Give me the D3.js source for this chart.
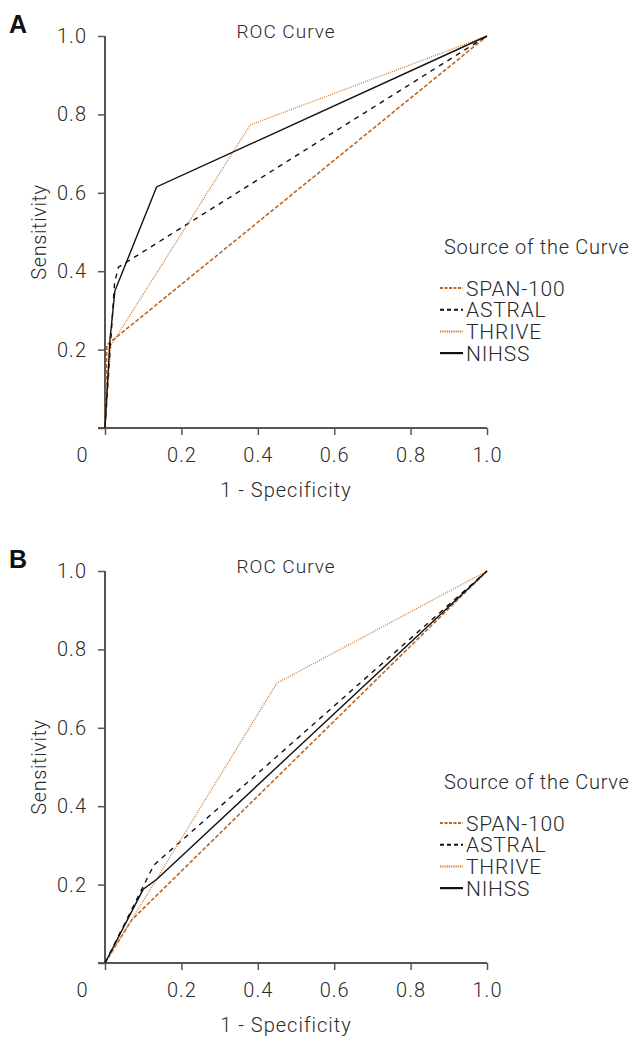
<!DOCTYPE html>
<html>
<head>
<meta charset="utf-8">
<script src="https://cdn.jsdelivr.net/npm/d3@7"></script>
<style>
  body { margin: 0; background: #fff; }
  svg text { font-family: Roboto, "Noto Sans", sans-serif; font-weight: 300; fill: #2a2a2a; }
</style>
</head>
<body>
<svg id="chart" width="633" height="1037"></svg>
<script>
// ticks shared by both panels
const tickValues = [0, 0.2, 0.4, 0.6, 0.8, 1.0]

const seriesNames = ["SPAN-100", "ASTRAL", "THRIVE", "NIHSS"]

// panel A: [1 - specificity, sensitivity]
const spanA   = [[0, 0], [0.005, 0.212], [1, 1]]
const astralA = [[0, 0], [0.025, 0.37], [0.035, 0.41], [1, 1]]
const thriveA = [[0, 0], [0.015, 0.21], [0.38, 0.773], [1, 1]]
const nihssA  = [[0, 0], [0.013, 0.225], [0.026, 0.35], [0.135, 0.615], [1, 1]]

// panel B
const spanB   = [[0, 0], [0.07, 0.11], [1, 1]]
const astralB = [[0, 0], [0.128, 0.25], [1, 1]]
const thriveB = [[0, 0], [0.45, 0.714], [1, 1]]
const nihssB  = [[0, 0], [0.1, 0.188], [0.135, 0.213], [1, 1]]

const styles = {
  "SPAN-100": { color: "#c0661f", dash: "4,2", width: 1.6, legendDash: "3,1.5" },
  "ASTRAL":   { color: "#111",    dash: "5,5", width: 1.4, legendDash: "4,3" },
  "THRIVE":   { color: "#cc7a35", dash: "1,1.2", width: 1.3, legendDash: "1,0.8" },
  "NIHSS":    { color: "#111",    dash: null,  width: 1.4, legendDash: null }
}

const svg = d3.select("#chart")

function drawPanel(top, letter, data) {
  const g = svg.append("g").attr("transform", `translate(0,${top})`)

  const x = d3.scaleLinear().domain([0, 1]).range([105, 487])
  const y = d3.scaleLinear().domain([0, 1]).range([428, 36])

  // panel letter
  g.append("text")
    .attr("x", 9).attr("y", 33)
    .style("font-family", "Arial, 'Liberation Sans', sans-serif")
    .style("font-weight", "bold")
    .style("font-size", "25px")
    .style("fill", "#111")
    .text(letter)

  // title
  g.append("text")
    .attr("x", 286).attr("y", 38)
    .attr("text-anchor", "middle")
    .style("font-size", "19px")
    .style("letter-spacing", "1px")
    .text("ROC Curve")

  // axes
  const axisColor = "#555"
  const fmt = d => d === 0 ? "" : d3.format(".1f")(d)
  const xAxis = g.append("g")
    .attr("transform", `translate(0,${y(0)})`)
    .call(d3.axisBottom(x).tickValues(tickValues).tickSize(7).tickSizeOuter(0).tickFormat(fmt))
  xAxis.select(".domain").remove()
  xAxis.selectAll("line").attr("stroke", axisColor).attr("stroke-width", 1.5)
  xAxis.selectAll("text")
    .attr("y", 20)
    .style("font-size", "20px").style("font-family", "Roboto, sans-serif")
    .style("font-weight", 300).style("letter-spacing", "1px").style("fill", "#2a2a2a")

  const yAxis = g.append("g")
    .attr("transform", `translate(${x(0)},0)`)
    .call(d3.axisLeft(y).tickValues(tickValues).tickSize(7).tickSizeOuter(0).tickFormat(fmt))
  yAxis.select(".domain").remove()
  yAxis.selectAll("line").attr("stroke", axisColor).attr("stroke-width", 1.5)
  yAxis.selectAll("text")
    .attr("x", -18)
    .style("font-size", "20px").style("font-family", "Roboto, sans-serif")
    .style("font-weight", 300).style("letter-spacing", "1px").style("fill", "#2a2a2a")

  g.append("line")
    .attr("x1", x(0) - 7).attr("x2", x(1))
    .attr("y1", y(0)).attr("y2", y(0))
    .attr("stroke", axisColor).attr("stroke-width", 2)
  g.append("line")
    .attr("x1", x(0)).attr("x2", x(0))
    .attr("y1", y(0)).attr("y2", y(1))
    .attr("stroke", axisColor).attr("stroke-width", 2)

  // origin label
  g.append("text")
    .attr("x", 82).attr("y", y(0) + 34)
    .attr("text-anchor", "middle")
    .style("font-size", "20px")
    .text("0")

  // axis titles
  g.append("text")
    .attr("x", 286).attr("y", 497)
    .attr("text-anchor", "middle")
    .style("font-size", "20px")
    .style("letter-spacing", "1px")
    .text("1 - Specificity")
  g.append("text")
    .attr("transform", `translate(46,${(y(0) + y(1)) / 2}) rotate(-90)`)
    .attr("text-anchor", "middle")
    .style("font-size", "20px")
    .style("letter-spacing", "0.6px")
    .text("Sensitivity")

  // curves
  const line = d3.line().x(d => x(d[0])).y(d => y(d[1]))
  seriesNames.forEach((name, i) => {
    const s = styles[name]
    g.append("path")
      .datum(data[i])
      .attr("d", line)
      .attr("fill", "none")
      .attr("stroke", s.color)
      .attr("stroke-width", s.width)
      .attr("stroke-dasharray", s.dash)
  })

  // legend
  g.append("text")
    .attr("x", 444).attr("y", 254)
    .style("font-size", "20px")
    .style("letter-spacing", "0.7px")
    .text("Source of the Curve")

  seriesNames.forEach((name, i) => {
    const s = styles[name]
    const ly = 288 + i * 21.7
    g.append("line")
      .attr("x1", 440).attr("x2", 463)
      .attr("y1", ly).attr("y2", ly)
      .attr("stroke", s.color)
      .attr("stroke-width", name === "NIHSS" ? 2.2 : 2)
      .attr("stroke-dasharray", s.legendDash)
    g.append("text")
      .attr("x", 466).attr("y", ly + 7.5)
      .style("font-size", "21px")
      .style("letter-spacing", "0.8px")
      .text(name)
  })
}

drawPanel(0, "A", [spanA, astralA, thriveA, nihssA])
drawPanel(535, "B", [spanB, astralB, thriveB, nihssB])
</script>
</body>
</html>
